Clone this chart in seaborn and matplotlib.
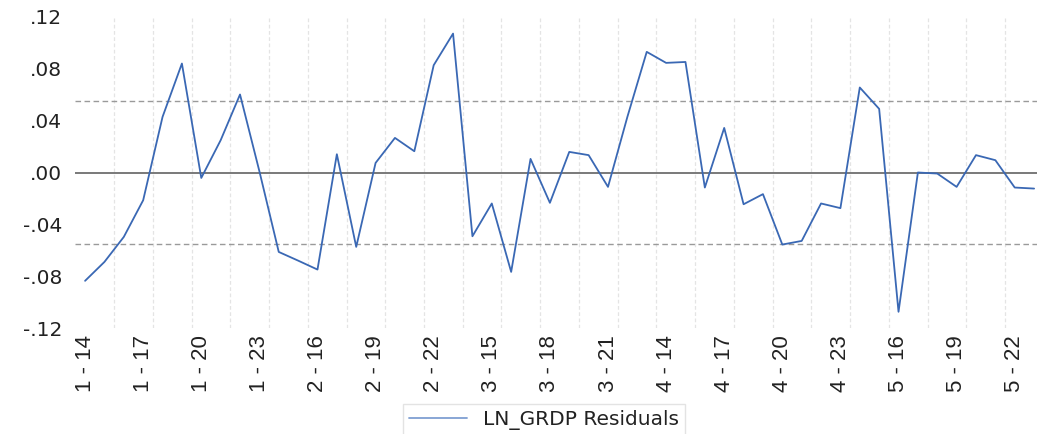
import numpy as np
import pandas as pd
import matplotlib
matplotlib.use('Agg')
import matplotlib.pyplot as plt
import seaborn as sns
from matplotlib.lines import Line2D

# cross sections 1..5, years 14..23
sections = [1, 2, 3, 4, 5]
years = list(range(14, 24))
obs_labels = [f'{s} - {y}' for s in sections for y in years]

residuals = [
    -0.0836, -0.0690, -0.0497, -0.0214, 0.0429, 0.0841, -0.0042, 0.0249, 0.0602, 0.0010,
    -0.0613, -0.0680, -0.0749, 0.0141, -0.0574, 0.0074, 0.0267, 0.0164, 0.0828, 0.1072,
    -0.0492, -0.0239, -0.0767, 0.0105, -0.0234, 0.0159, 0.0134, -0.0111, 0.0429, 0.0931,
    0.0846, 0.0853, -0.0116, 0.0344, -0.0245, -0.0167, -0.0556, -0.0528, -0.0239, -0.0275,
    0.0656, 0.0491, -0.1075, 0.0000, -0.0008, -0.0111, 0.0134, 0.0095, -0.0116, -0.0124,
]
band = 0.0553  # dashed reference lines
yticks = [0.12, 0.08, 0.04, 0.0, -0.04, -0.08, -0.12]
ytick_labels = ['.12', '.08', '.04', '.00', '-.04', '-.08', '-.12']

df = pd.DataFrame({'obs': np.arange(len(residuals)), 'resid': residuals})

sns.set_style('white')
plt.rcParams['font.family'] = ['DejaVu Sans']

fig = plt.figure(figsize=(10.37, 4.34), dpi=100)
ax = fig.add_axes([75 / 1037, 106 / 434, 962 / 1037, 311 / 434])

line_color = '#3a68b4'
sns.lineplot(data=df, x='obs', y='resid', color=line_color, linewidth=1.3, ax=ax, zorder=4)

ax.axhline(0, color='#555555', linewidth=1.1, zorder=3)
ax.axhline(band, color='#9a9a9a', linewidth=1.0, linestyle=(0, (4, 2.5)), zorder=2)
ax.axhline(-band, color='#9a9a9a', linewidth=1.0, linestyle=(0, (4, 2.5)), zorder=2)

# vertical grid every two observations
for gx in np.arange(1.5, len(residuals), 2):
    ax.axvline(gx, color='#e4e4e4', linewidth=0.9, linestyle=(0, (3, 2)), zorder=1)

ax.set_xlim(-0.52, 49.15)
ax.set_ylim(-0.12, 0.12)
ax.set_yticks(yticks)
ax.set_yticklabels(ytick_labels)
tick_pos = list(range(0, len(residuals), 3))
ax.set_xticks(tick_pos)
ax.set_xticklabels([obs_labels[i] for i in tick_pos], rotation=90,
                   family=['Liberation Sans Narrow', 'Liberation Sans', 'DejaVu Sans'],
                   fontsize=16)
ax.tick_params(axis='y', labelsize=14.5, length=0, pad=9, colors='#222222')
ax.tick_params(axis='x', length=0, pad=5, colors='#222222')
ax.set_xlabel('')
ax.set_ylabel('')
for sp in ax.spines.values():
    sp.set_visible(False)

handle = Line2D([], [], color='#7f9fd2', linewidth=1.3)
leg = fig.legend([handle], ['LN_GRDP Residuals'], loc='upper left',
                 bbox_to_anchor=(403 / 1037, 1 - 404 / 434), borderaxespad=0,
                 fontsize=14.5, frameon=True, fancybox=False, edgecolor='#dddddd',
                 handlelength=2.9, borderpad=0.3, handletextpad=0.75)
leg.get_frame().set_linewidth(1.0)
for t in leg.get_texts():
    t.set_color('#222222')

fig.savefig('out.png', dpi=100)
